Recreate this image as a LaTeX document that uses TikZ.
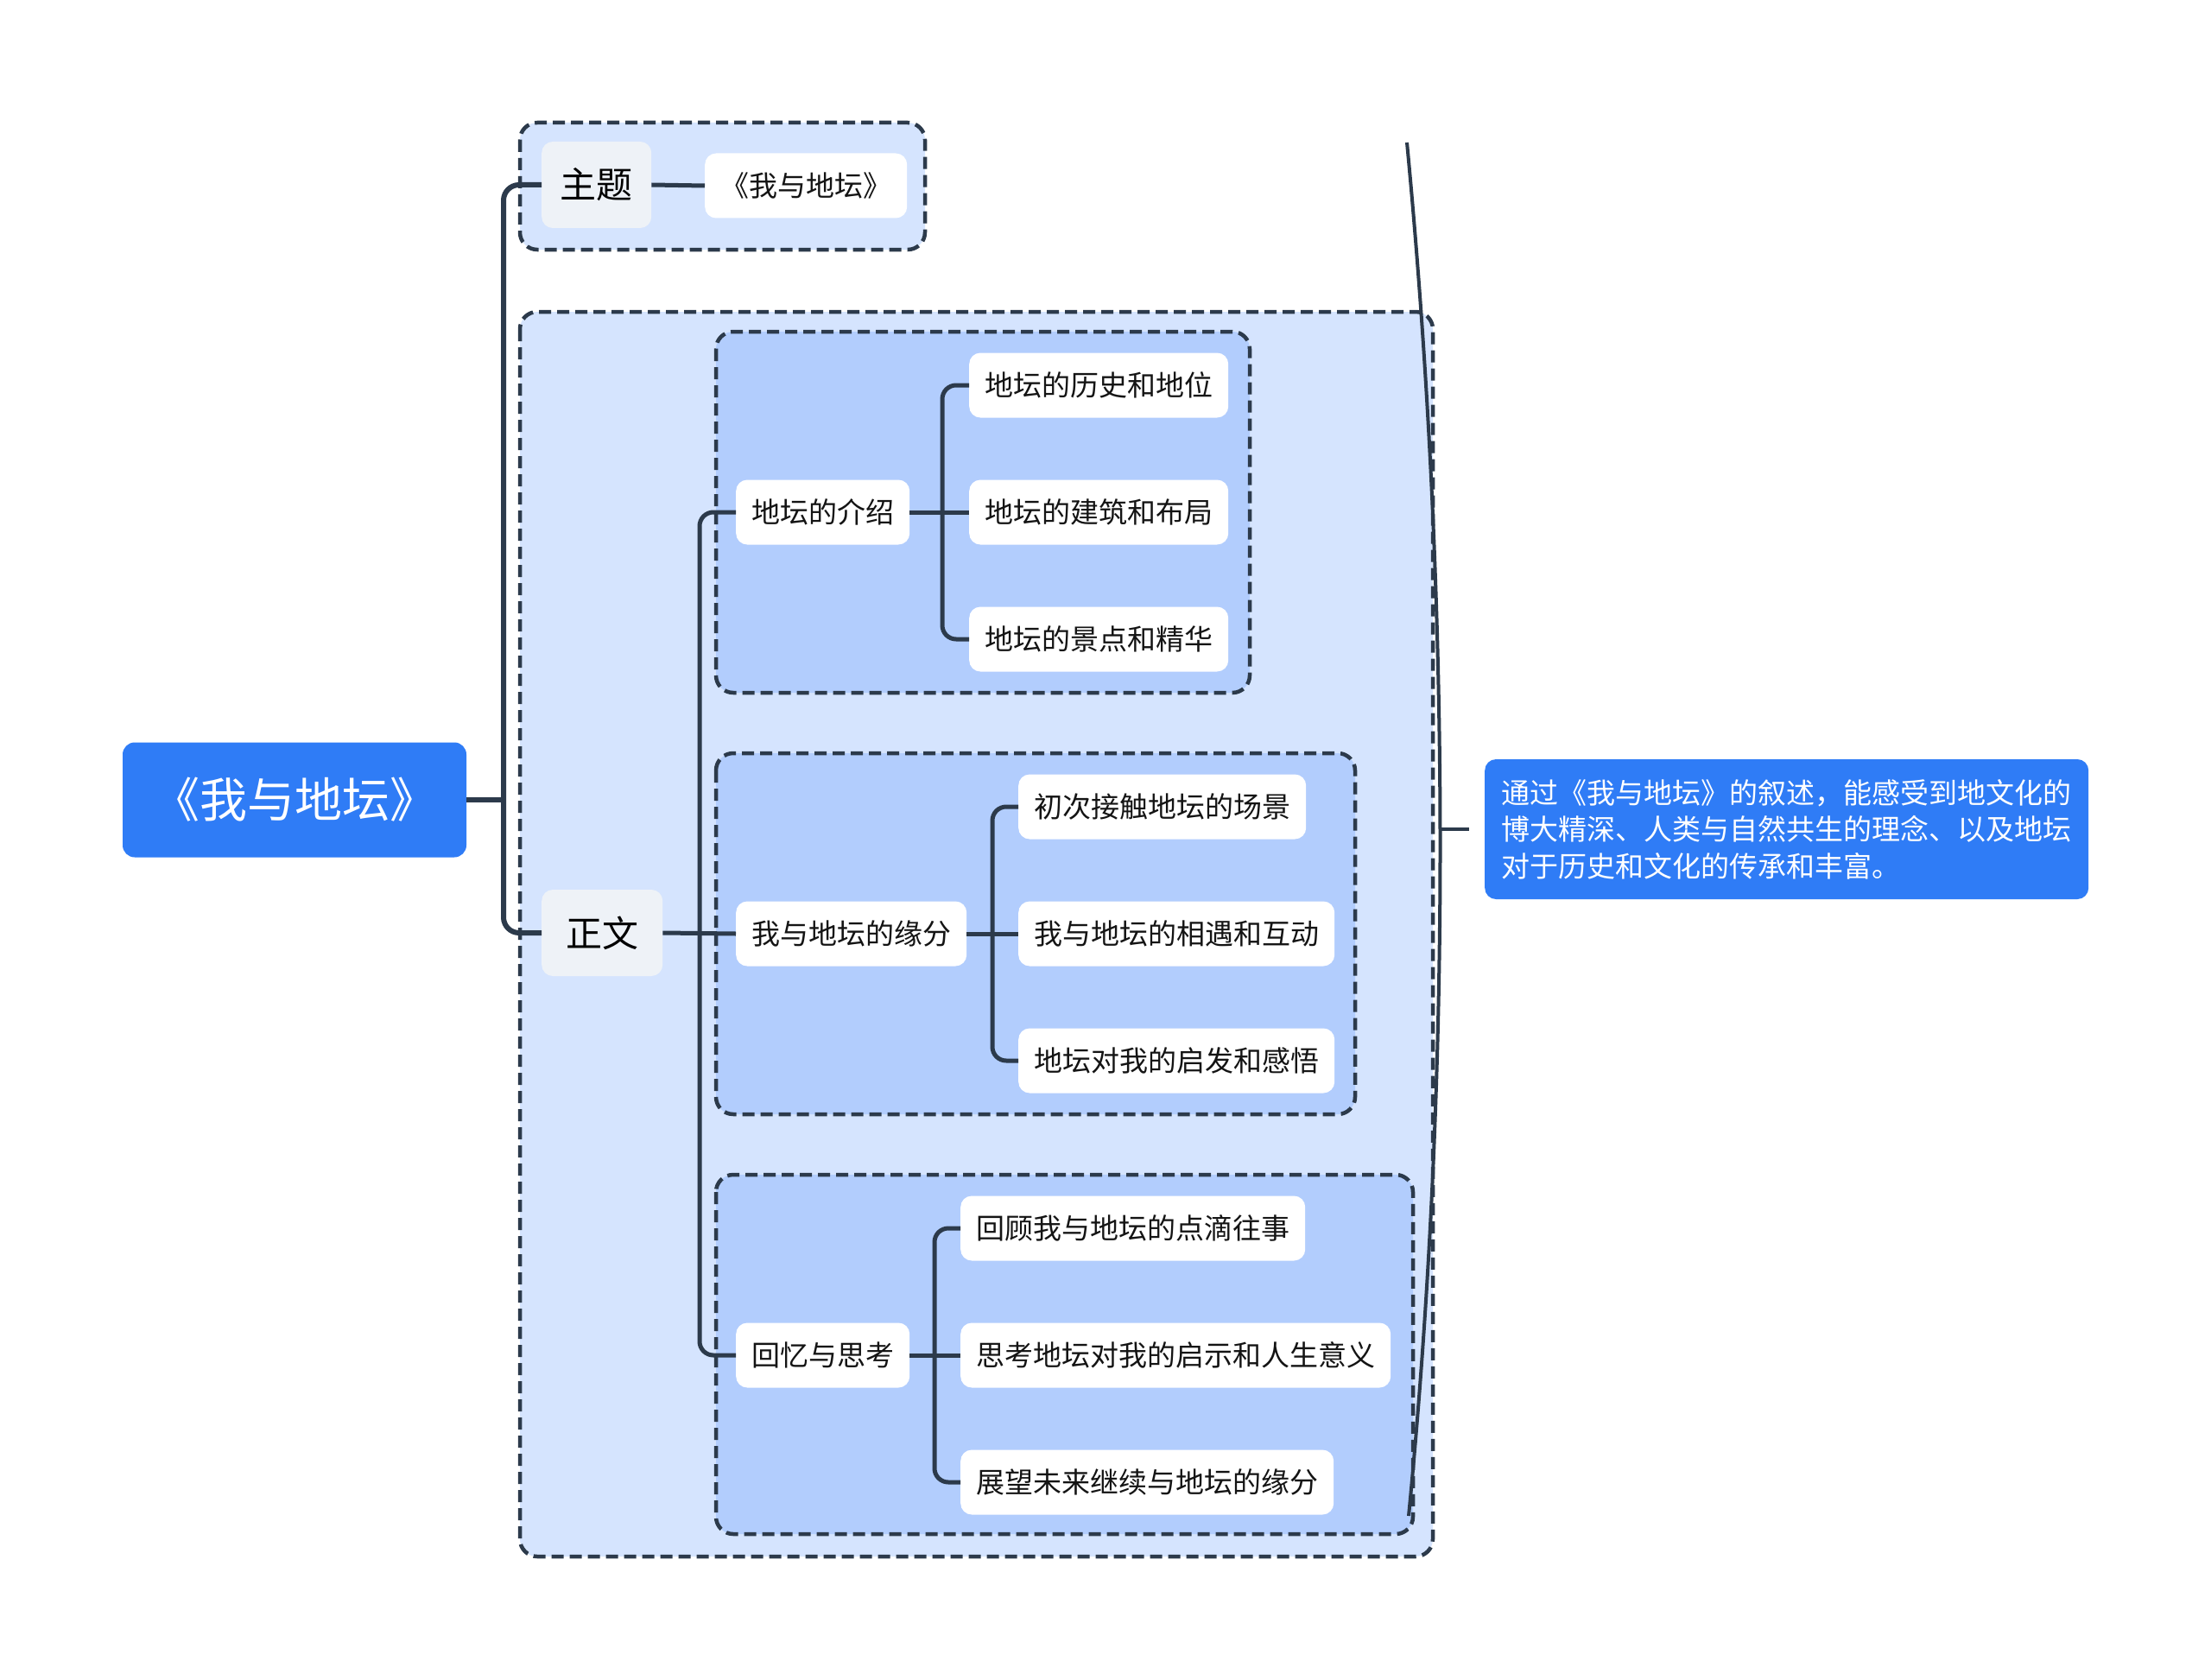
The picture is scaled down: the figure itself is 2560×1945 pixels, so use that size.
\documentclass[tikz,border=0pt]{standalone}
\usepackage{fontspec}
\setmainfont{Noto Sans CJK SC}
\definecolor{linec}{HTML}{2C3A4B}
\definecolor{rootc}{HTML}{2F7CF6}
\definecolor{outerg}{HTML}{D5E4FE}
\definecolor{innerg}{HTML}{B2CDFD}
\definecolor{keyc}{HTML}{EEF2F7}
\tikzset{
  leaf/.style={fill=white, rounded corners=13pt, minimum height=75pt, inner xsep=18pt, inner ysep=0pt, anchor=west, font=\fontsize{33}{40}\selectfont, text=black!92},
  keyn/.style={fill=keyc, rounded corners=13pt, minimum height=100pt, inner xsep=20pt, anchor=west, font=\fontsize{42}{50}\selectfont, text=black},
  rootn/.style={fill=rootc, rounded corners=14pt, minimum width=398pt, minimum height=133pt, text=white, font=\fontsize{55}{64}\selectfont},
  grpbox/.style={draw=linec, line width=4.5pt, dash pattern=on 14pt off 7pt, rounded corners=20pt},
  conn/.style={draw=linec, line width=5pt, rounded corners=16pt},
  mainconn/.style={draw=linec, line width=6pt, rounded corners=18pt},
  sumn/.style={fill=rootc, rounded corners=13pt, minimum width=699pt, minimum height=162pt, inner xsep=18pt, anchor=west, text=white, align=left, font=\fontsize{33}{42.4}\selectfont}
}
\begin{document}
\begin{tikzpicture}[x=1pt,y=-1pt]
\useasboundingbox (0,0) rectangle (2560,1945);
\fill[white] (0,0) rectangle (2560,1945);
% group boxes
\filldraw[grpbox, fill=outerg] (602,142) rectangle (1071,289);
\filldraw[grpbox, fill=outerg] (602,361) rectangle (1659,1802);
\filldraw[grpbox, fill=innerg] (829,384) rectangle (1447,802);
\filldraw[grpbox, fill=innerg] (829,872) rectangle (1569,1290);
\filldraw[grpbox, fill=innerg] (829,1360) rectangle (1636,1776);
% nodes
\node[rootn] (root) at (341,926) {《我与地坛》};
\node[keyn, minimum width=127pt] (zt) at (627,214) {主题};
\node[keyn, minimum width=140pt] (zw) at (627,1080) {正文};
\node[leaf] (ztc) at (816,215) {《我与地坛》};
\node[leaf] (c1) at (852,593) {地坛的介绍};
\node[leaf] (c1a) at (1122,446) {地坛的历史和地位};
\node[leaf] (c1b) at (1122,593) {地坛的建筑和布局};
\node[leaf] (c1c) at (1122,740) {地坛的景点和精华};
\node[leaf] (c2) at (852,1081) {我与地坛的缘分};
\node[leaf] (c2a) at (1179,934) {初次接触地坛的场景};
\node[leaf] (c2b) at (1179,1081) {我与地坛的相遇和互动};
\node[leaf] (c2c) at (1179,1228) {地坛对我的启发和感悟};
\node[leaf] (c3) at (852,1569) {回忆与思考};
\node[leaf] (c3a) at (1112,1422) {回顾我与地坛的点滴往事};
\node[leaf] (c3b) at (1112,1569) {思考地坛对我的启示和人生意义};
\node[leaf] (c3c) at (1112,1716) {展望未来继续与地坛的缘分};
\node[sumn] (sum) at (1719,960) {通过《我与地坛》的叙述，能感受到地文化的\\博大精深、人类与自然共生的理念、以及地坛\\对于历史和文化的传承和丰富。};
% junction coordinates
\coordinate (j0) at (583,926);
\coordinate (j1) at (810,1080);
\coordinate (j1a) at (1091,593);
\coordinate (j2a) at (1149,1081);
\coordinate (j3a) at (1082,1569);
% connectors
\draw[mainconn] (root.east) -- (j0);
\draw[mainconn] (zt.west) -| (j0) |- (zw.west);
\draw[conn] (zt.east) -- (ztc.west);
\draw[conn] (zw.east) -- (c2.west);
\draw[conn] (c1.west) -| (j1) |- (c3.west);
\draw[conn] (c1.east) -- (c1b.west);
\draw[conn] (c1a.west) -| (j1a) |- (c1c.west);
\draw[conn] (c2.east) -- (c2b.west);
\draw[conn] (c2a.west) -| (j2a) |- (c2c.west);
\draw[conn] (c3.east) -- (c3b.west);
\draw[conn] (c3a.west) -| (j3a) |- (c3c.west);
% summary brace
\coordinate (bt) at (1629,165);
\coordinate (bb) at (1631,1755);
\coordinate (bm) at (1667,960);
\coordinate (se) at (1701,960);
\draw[linec, line width=4pt] (bt) .. controls (1680,700) and (1680,1250) .. (bb);
\draw[linec, line width=3.5pt] (bm) -- (se);
\end{tikzpicture}
\end{document}
